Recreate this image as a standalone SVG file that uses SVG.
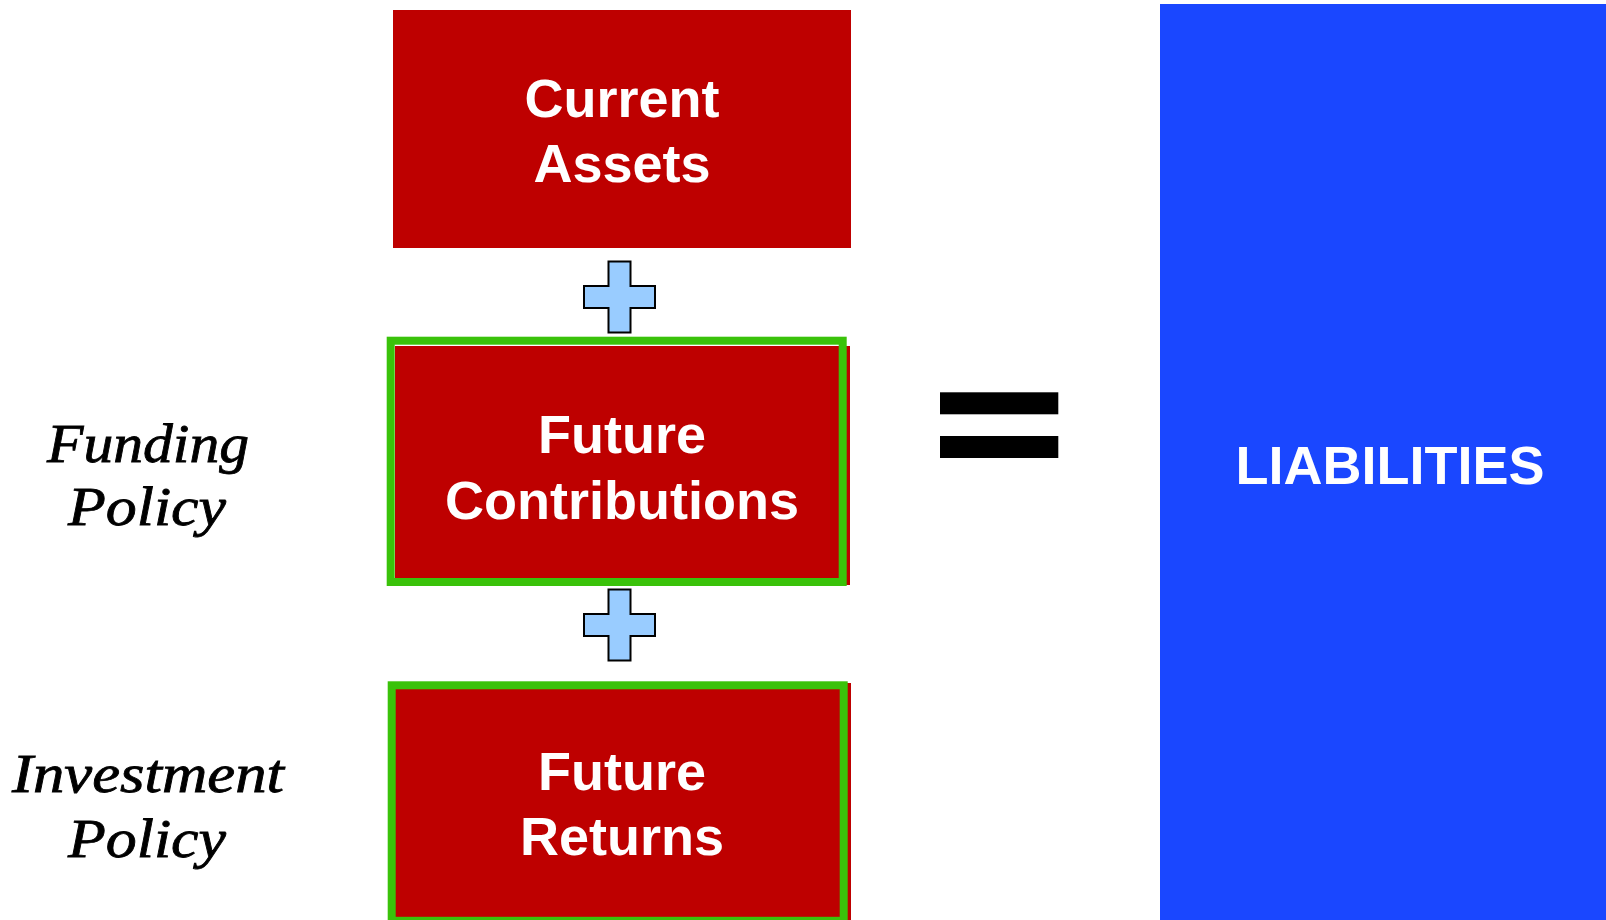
<svg xmlns="http://www.w3.org/2000/svg" width="1606" height="920" viewBox="0 0 1606 920">
  <style>
    .box { fill: #BE0000; }
    .frame { fill: none; stroke: #3AC20A; stroke-width: 8; }
    .label { font-family: "Liberation Sans", Arial, sans-serif; font-weight: bold; font-size: 54px; fill: #FFFFFF; text-anchor: middle; }
    .policy { font-family: "Liberation Serif", "Times New Roman", serif; font-style: italic; font-size: 54px; fill: #000000; stroke: #000000; stroke-width: 0.8; text-anchor: middle; }
    .plus { fill: #99CCFF; stroke: #000000; stroke-width: 2; stroke-linejoin: miter; }
  </style>
  <defs>
    <path id="plus-sign" d="M -11 -35.5 H 11 V -11 H 35.5 V 11 H 11 V 35.5 H -11 V 11 H -35.5 V -11 H -11 Z"/>
  </defs>

  <rect width="1606" height="920" fill="#FFFFFF"/>

  <!-- side captions -->
  <g id="funding-policy">
    <text class="policy" x="148" y="462" textLength="202" lengthAdjust="spacingAndGlyphs">Funding</text>
    <text class="policy" x="147" y="525" textLength="158" lengthAdjust="spacingAndGlyphs">Policy</text>
  </g>
  <g id="investment-policy">
    <text class="policy" x="148" y="792" textLength="272" lengthAdjust="spacingAndGlyphs">Investment</text>
    <text class="policy" x="147" y="857" textLength="158" lengthAdjust="spacingAndGlyphs">Policy</text>
  </g>

  <!-- asset side -->
  <g id="current-assets">
    <rect class="box" x="393" y="10" width="458" height="238"/>
    <text class="label" x="622" y="117">Current</text>
    <text class="label" x="622" y="182">Assets</text>
  </g>

  <g id="future-contributions">
    <rect class="box" x="395" y="346" width="455" height="239"/>
    <rect class="frame" x="390.7" y="340.7" width="452" height="241.3"/>
    <text class="label" x="622" y="453">Future</text>
    <text class="label" x="622" y="519">Contributions</text>
  </g>

  <g id="future-returns">
    <rect class="box" x="395" y="683" width="456" height="240"/>
    <rect class="frame" x="391.7" y="685.3" width="452" height="235.5"/>
    <text class="label" x="622" y="790">Future</text>
    <text class="label" x="622" y="855">Returns</text>
  </g>

  <!-- liability side -->
  <g id="liabilities">
    <rect x="1160" y="4" width="446" height="916" fill="#1A47FF"/>
    <text class="label" x="1390" y="484">LIABILITIES</text>
  </g>

  <!-- operators between the boxes -->
  <g id="operators">
    <use href="#plus-sign" class="plus" transform="translate(619.5 297)"/>
    <use href="#plus-sign" class="plus" transform="translate(619.5 625)"/>
    <rect x="940" y="392.3" width="118.3" height="22" fill="#000000"/>
    <rect x="940" y="436" width="118.3" height="22" fill="#000000"/>
  </g>
</svg>
